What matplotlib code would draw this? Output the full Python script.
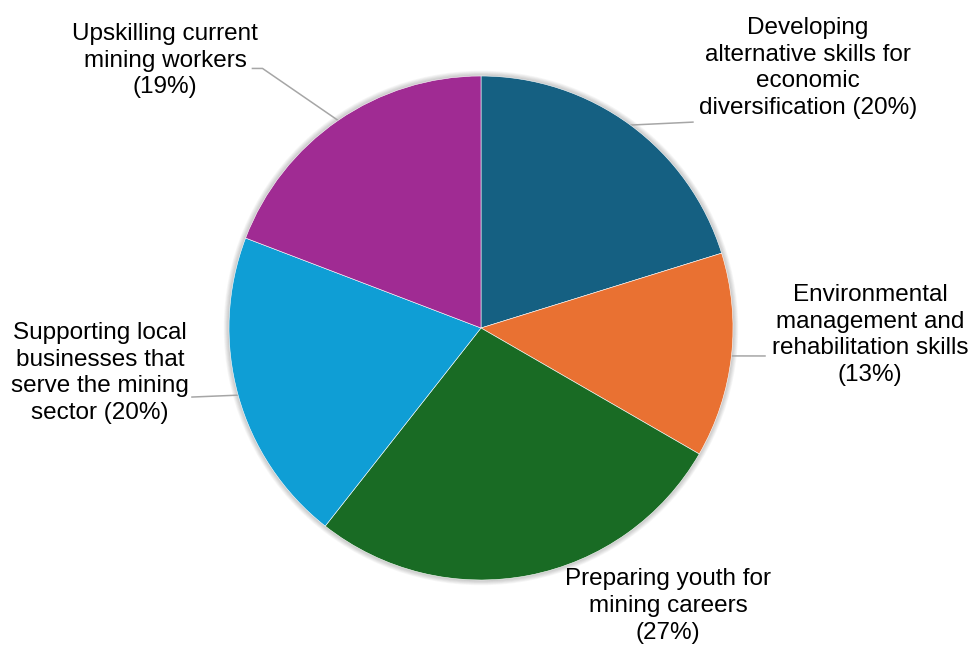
import numpy as np
import matplotlib.pyplot as plt
from matplotlib.patches import Circle

plt.rcParams['font.family'] = ['Liberation Sans', 'DejaVu Sans']

labels = [
    "Developing\nalternative skills for\neconomic\ndiversification (20%)",
    "Environmental\nmanagement and\nrehabilitation skills\n(13%)",
    "Preparing youth for\nmining careers\n(27%)",
    "Supporting local\nbusinesses that\nserve the mining\nsector (20%)",
    "Upskilling current\nmining workers\n(19%)",
]
shares = [20, 13, 27, 20, 19]
colors = ['#156082', '#E97132', '#196B24', '#0F9ED5', '#A02B93']

# label centres and leader-line ends (data units, radius = 1)
label_pos = [(1.298, 1.032), (1.544, -0.028), (0.742, -1.103),
             (-1.512, -0.179), (-1.254, 1.060)]
leader_end = [(0.841, 0.817), (1.127, -0.111), None,
              (-1.147, -0.274), [(-0.867, 1.030), (-0.907, 1.030)]]

fig = plt.figure(figsize=(9.68, 6.45), dpi=100)
R = 252
cx, cy = 481, 328
ax = fig.add_axes([(cx - R) / 968, (645 - cy - R) / 645, 2 * R / 968, 2 * R / 645])

wedges, _ = ax.pie(shares, colors=colors, startangle=90, counterclock=False,
                   radius=1, wedgeprops=dict(edgecolor='white', linewidth=0.4))
for w in wedges:
    w.set_zorder(2)

ax.set_xlim(-1, 1)
ax.set_ylim(-1, 1)
ax.set_aspect('equal')
ax.axis('off')

# soft shadow around the pie
for k in range(1, 8):
    ax.add_patch(Circle((0, 0.0), 1 + k * 0.003, color='#000000', alpha=0.03,
                        lw=0, zorder=0, clip_on=False))

for w, lab, pos, end in zip(wedges, labels, label_pos, leader_end):
    ax.text(pos[0], pos[1], lab, ha='center', va='center', fontsize=17.5,
            linespacing=1.27, color='#000000', clip_on=False)
    if end is None:
        continue
    mid = np.deg2rad((w.theta1 + w.theta2) / 2)
    pts = [(np.cos(mid), np.sin(mid))]
    if isinstance(end, list):
        pts += end
    else:
        pts.append(end)
    xs, ys = zip(*pts)
    ax.plot(xs, ys, color='#A6A6A6', lw=1.1, clip_on=False, zorder=1)

fig.savefig('out.png', dpi=100)
